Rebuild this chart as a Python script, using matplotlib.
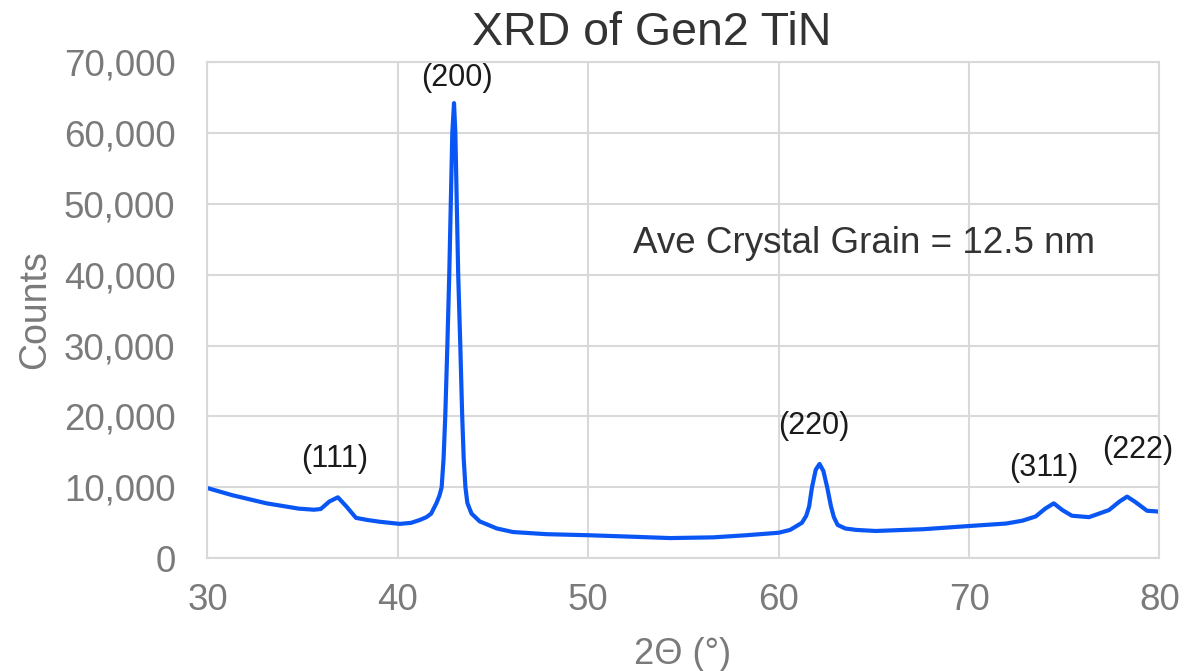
import matplotlib
matplotlib.use("Agg")
import matplotlib.pyplot as plt
from matplotlib.ticker import FuncFormatter

plt.rcParams['font.family'] = ['Liberation Sans', 'DejaVu Sans']

# XRD scan (2-theta in degrees, counts)
two_theta = [30.0, 31.3, 33.1, 34.8, 35.6, 35.95, 36.4, 36.85, 37.3, 37.8,
             38.4, 39.05, 40.1, 40.7, 41.15, 41.5, 41.75, 42.03, 42.18, 42.3,
             42.4, 42.49, 42.6, 42.7, 42.86, 42.95, 43.02, 43.17, 43.28, 43.38,
             43.46, 43.55, 43.65, 43.87, 44.3, 45.2, 46.05, 47.8, 50.0, 52.2,
             54.3, 56.55, 58.3, 60.0, 60.6, 61.22, 61.45, 61.6, 61.75, 61.95,
             62.15, 62.35, 62.55, 62.75, 62.9, 63.1, 63.5, 64.07, 65.1, 67.6,
             70.0, 71.95, 72.8, 73.5, 74.0, 74.45, 74.9, 75.4, 76.3, 77.35,
             77.9, 78.3, 78.7, 79.35, 79.9, 80.0]
counts = [9900, 8900, 7750, 7000, 6850, 6950, 8000, 8600, 7300, 5700,
          5400, 5150, 4850, 5000, 5400, 5800, 6300, 7800, 8800, 10000,
          14000, 20000, 30000, 40000, 60000, 64200, 60000, 40000, 30000, 20000,
          14000, 10000, 7800, 6300, 5200, 4200, 3700, 3400, 3250, 3050,
          2850, 2950, 3250, 3600, 4000, 5000, 6000, 7300, 10000, 12500,
          13300, 12300, 10000, 7300, 5800, 4700, 4200, 4000, 3850, 4100,
          4550, 4900, 5300, 5900, 7000, 7750, 6800, 6000, 5800, 6800,
          8000, 8700, 8000, 6700, 6600, 6500]

# peak labels (Miller indices) and where they sit
peak_labels = ['(111)', '(200)', '(220)', '(311)', '(222)']
peak_x = [36.7, 43.1, 61.85, 73.9, 78.85]
peak_y = [14000, 67800, 18600, 12700, 15300]

x_ticks = [30, 40, 50, 60, 70, 80]
y_ticks = [0, 10000, 20000, 30000, 40000, 50000, 60000, 70000]

grid_col = '#d9d9d9'
tick_col = '#7a7a7a'

fig = plt.figure(figsize=(12.04, 6.71), dpi=100)
ax = fig.add_axes([0.1723, 0.168, 0.7907, 0.7396])

ax.plot(two_theta, counts, color='#0a56f5', lw=3.0, solid_joinstyle='round')

ax.set_xlim(30, 80)
ax.set_ylim(0, 70000)
ax.set_xticks(x_ticks)
ax.set_yticks(y_ticks)
ax.yaxis.set_major_formatter(FuncFormatter(lambda v, p: f'{int(v):,}'))
ax.tick_params(length=0, labelsize=26.5, colors=tick_col)
ax.tick_params(axis='y', pad=23)
ax.tick_params(axis='x', pad=18)
ax.grid(True, color=grid_col, lw=1.5)
ax.set_axisbelow(True)
for s in ax.spines.values():
    s.set_color(grid_col)
    s.set_linewidth(1.5)

for lab, px, py in zip(peak_labels, peak_x, peak_y):
    ax.text(px, py, lab, ha='center', va='center', fontsize=22,
            color='#1a1a1a', clip_on=False)

ax.text(52.35, 44400, 'Ave Crystal Grain = 12.5 nm', ha='left', va='center',
        fontsize=26.5, color='#333333')

fig.text(0.5415, 0.951, 'XRD of Gen2 TiN', ha='center', va='center',
         fontsize=33.5, color='#333333')
fig.text(0.029, 0.539, 'Counts', rotation=90, ha='center', va='center',
         fontsize=27, color=tick_col)
fig.text(0.567, 0.024, '2\u0398 (\u00b0)', ha='center', va='center',
         fontsize=26, color=tick_col)

fig.savefig('out.png', dpi=100)
